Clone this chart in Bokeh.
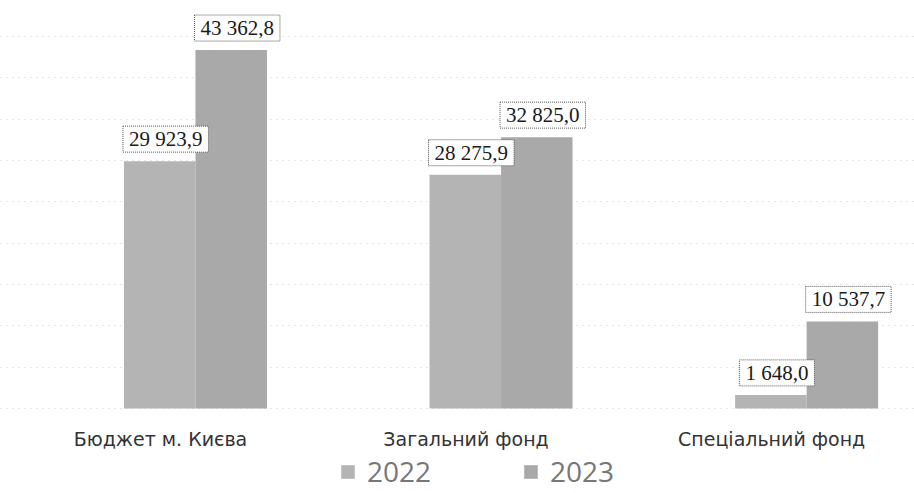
from bokeh.plotting import figure
from bokeh.models import ColumnDataSource, FixedTicker, Legend, LegendItem, Range1d
from bokeh.core.properties import value
from bokeh.embed import file_html
from bokeh.resources import INLINE

categories = ["Бюджет м. Києва", "Загальний фонд", "Спеціальний фонд"]
series_names = ["2022", "2023"]
values_2022 = [29923.9, 28275.9, 1648.0]
values_2023 = [43362.8, 32825.0, 10537.7]
grid_ticks = [0, 5000, 10000, 15000, 20000, 25000, 30000, 35000, 40000, 45000]


def fmt(v):
    return f"{v:,.1f}".replace(",", " ").replace(".", ",")


BAR_W = 0.234
idx = list(range(len(categories)))

src22 = ColumnDataSource(dict(x=[i - BAR_W / 2 for i in idx], top=values_2022,
                              lab=[fmt(v) for v in values_2022]))
src23 = ColumnDataSource(dict(x=[i + BAR_W / 2 for i in idx], top=values_2023,
                              lab=[fmt(v) for v in values_2023]))
srccat = ColumnDataSource(dict(x=idx, y=[0] * len(idx), name=categories))

p = figure(width=914, height=493, output_backend="svg", toolbar_location=None,
           x_range=Range1d(-0.638, 2.353), y_range=Range1d(-10282, 49356),
           min_border=0, min_border_left=0, min_border_right=0,
           min_border_top=0, min_border_bottom=0)
p.outline_line_color = None
p.background_fill_color = "white"
p.border_fill_color = "white"

p.xaxis.visible = False
p.yaxis.visible = False
p.xgrid.visible = False
p.yaxis.ticker = FixedTicker(ticks=grid_ticks)
p.ygrid.ticker = FixedTicker(ticks=grid_ticks)
p.ygrid.grid_line_color = "#cccccc"
p.ygrid.grid_line_dash = "1 5"
p.ygrid.grid_line_width = 1

r22 = p.vbar(x="x", top="top", width=BAR_W, source=src22,
             fill_color="#b4b4b4", line_color=None)
r23 = p.vbar(x="x", top="top", width=BAR_W, source=src23,
             fill_color="#a9a9a9", line_color=None)

for s in (src22, src23):
    p.text(x="x", y="top", text="lab", source=s,
           text_font=value("Liberation Serif"), text_font_size="21px",
           text_color="#1a1a1a", text_align="center", text_baseline="bottom",
           x_offset=6, y_offset=-9,
           background_fill_color="white",
           border_line_color="#555555", border_line_dash="1 1",
           border_line_width=1, padding=(6, 1))

p.text(x="x", y="y", text="name", source=srccat,
       text_font=value("DejaVu Sans"), text_font_size="19px",
       text_color="#333333", text_align="center", text_baseline="middle",
       x_offset=-35, y_offset=30)

legend = Legend(items=[LegendItem(label=series_names[0], renderers=[r22]),
                       LegendItem(label=series_names[1], renderers=[r23])],
                orientation="horizontal", location=(339, 3),
                glyph_width=17, glyph_height=17, label_standoff=11,
                spacing=91, padding=0, margin=0,
                border_line_color=None, background_fill_alpha=0,
                label_text_font="Open Sans", label_text_font_size="28px",
                label_text_color="#777777")
p.add_layout(legend, "center")

open("out.html", "w").write(file_html(p, INLINE))
